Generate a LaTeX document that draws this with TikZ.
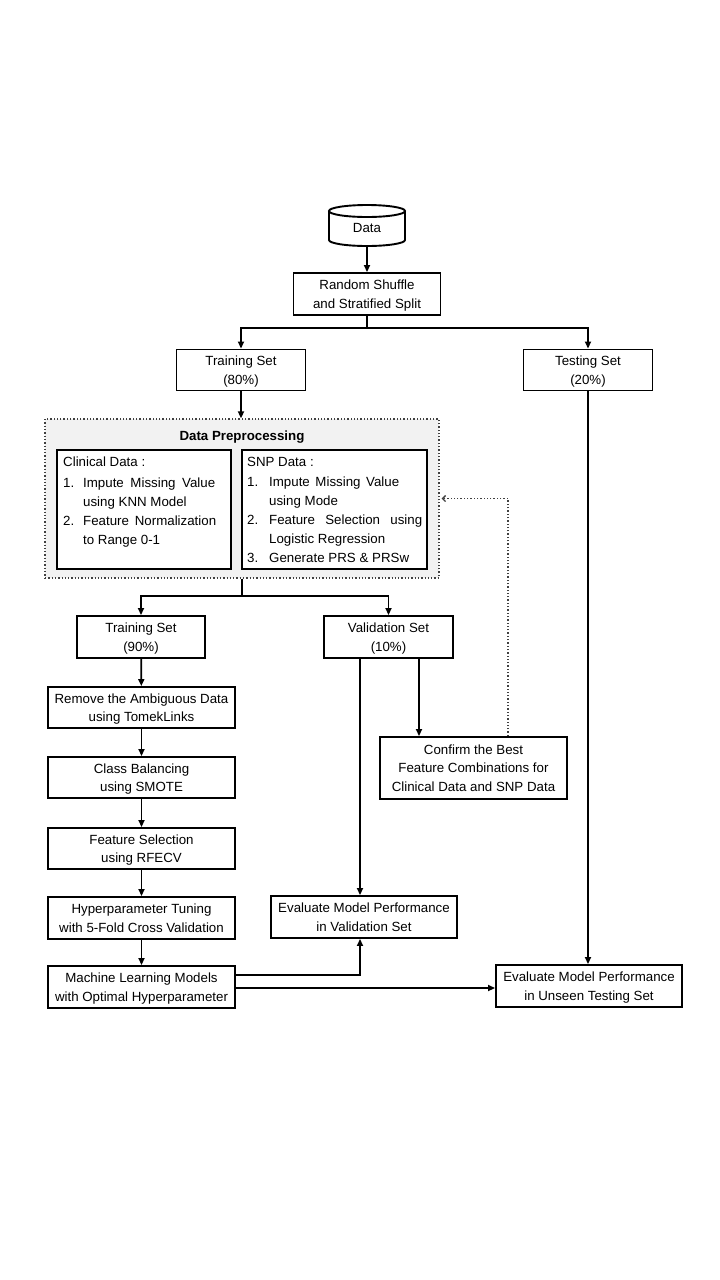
\documentclass[tikz,border=0pt]{standalone}
\usepackage{fontspec}
\setmainfont{Liberation Sans}
\usetikzlibrary{arrows.meta,calc}
\begin{document}
\begin{tikzpicture}[x=1pt,y=-1pt,
  txt/.style={font=\fontsize{13.3}{18.5}\selectfont},
  box/.style={txt,draw,line width=1.9pt,align=center,inner sep=0pt,fill=white,text depth=0pt},
  arr/.style={line width=1.7pt,-{Triangle[length=7pt,width=6pt]}},
  ln/.style={line width=1.9pt},
  dotarr/.style={line width=1.3pt,dotted,gray!50!black,-{Straight Barb[length=3pt,width=6pt]}}]
\useasboundingbox (0,0) rectangle (720,1280);

% data cylinder
\node[txt,minimum width=76pt,minimum height=41pt,inner sep=0pt] (data) at (367,225.5) {};
\node[txt] (datalbl) at (367,228) {Data};
\draw[ln] (367,211) ellipse [x radius=38pt,y radius=6pt];
\draw[ln] (329,211) -- (329,240) arc[start angle=180,end angle=360,x radius=38pt,y radius=6pt] -- (405,211);

\node[box,minimum width=147pt,minimum height=42pt] (rs) at (367,294) {Random Shuffle\\and Stratified Split};
\node[box,minimum width=129pt,minimum height=41pt] (tr80) at (241,370) {Training Set\\(80\%)};
\node[box,minimum width=129pt,minimum height=41pt] (te20) at (588,370) {Testing Set\\(20\%)};

% preprocessing
\node[draw=gray!50!black,dotted,line width=1.3pt,fill=black!5,minimum width=394pt,minimum height=159pt,inner sep=0pt] (pre) at (242,498.5) {};
\node[txt,font=\fontsize{13.3}{18.5}\selectfont\bfseries] (pretitle) at (242,437) {Data Preprocessing};
\node[draw,line width=2pt,fill=white,minimum width=174pt,minimum height=119pt,inner sep=0pt] (clin) at (144,509.5) {};
\node[draw,line width=2pt,fill=white,minimum width=185pt,minimum height=119pt,inner sep=0pt] (snp) at (334.5,509.5) {};
\node[anchor=north west,inner sep=0pt,align=left,font=\fontsize{13.3}{19}\selectfont] (clintext) at (63,457) {%
Clinical Data :\\[1.5pt]
\makebox[20pt][l]{1.}\makebox[132pt][s]{Impute Missing Value}\\
\hspace*{20pt}using KNN Model\\
\makebox[20pt][l]{2.}\makebox[133pt][s]{Feature Normalization}\\
\hspace*{20pt}to Range 0-1};
\node[anchor=north west,inner sep=0pt,align=left,font=\fontsize{13.3}{19}\selectfont] (snptext) at (247,457) {%
SNP Data :\\[1.5pt]
\makebox[22pt][l]{1.}\makebox[130pt][s]{Impute Missing Value}\\
\hspace*{22pt}using Mode\\
\makebox[22pt][l]{2.}\makebox[153pt][s]{Feature Selection using}\\
\hspace*{22pt}Logistic Regression\\
\makebox[22pt][l]{3.}\makebox[140pt][s]{Generate PRS \& PRSw}};

\node[box,minimum width=128pt,minimum height=42pt] (tr90) at (141,637) {Training Set\\(90\%)};
\node[box,minimum width=129pt,minimum height=42pt] (val) at (388.5,637) {Validation Set\\(10\%)};

\node[box,minimum width=187pt,minimum height=41pt] (rm) at (141.5,707.5) {Remove the Ambiguous Data\\using TomekLinks};
\node[box,minimum width=187pt,minimum height=41pt] (cb) at (141.5,777.5) {Class Balancing\\using SMOTE};
\node[box,minimum width=187pt,minimum height=41pt] (fs) at (141.5,848.5) {Feature Selection\\using RFECV};
\node[box,minimum width=187pt,minimum height=42pt] (hp) at (141.5,918) {Hyperparameter Tuning\\with 5-Fold Cross Validation};
\node[box,minimum width=187pt,minimum height=42pt] (ml) at (141.5,987) {Machine Learning Models\\with Optimal Hyperparameter};

\node[box,minimum width=186pt,minimum height=42pt] (ev) at (364,917) {Evaluate Model Performance\\in Validation Set};
\node[box,minimum width=187pt,minimum height=62pt] (cf) at (473.5,768) {Confirm the Best\\Feature Combinations for\\Clinical Data and SNP Data};
\node[box,minimum width=186pt,minimum height=42pt] (eu) at (589,986) {Evaluate Model Performance\\in Unseen Testing Set};

% connectors
\draw[arr] (data.south) -- (rs.north);
\draw[arr] (rs.south) -- ++(0,12) -| (tr80.north);
\draw[arr] (rs.south) -- ++(0,12) -| (te20.north);
\draw[arr] (tr80.south) -- (pre.north -| tr80.south);
\draw[arr] (te20.south) -- (eu.north -| te20.south);
\draw[arr] (pre.south) -- ++(0,17) -| (tr90.north);
\draw[arr] (pre.south) -- ++(0,17) -| (val.north);
\draw[arr] (tr90) -- (rm);
\draw[arr] (rm) -- (cb);
\draw[arr] (cb) -- (fs);
\draw[arr] (fs) -- (hp);
\draw[arr] (hp) -- (ml);
\draw[arr] ([xshift=-4pt]ev.north |- val.south) -- ([xshift=-4pt]ev.north);
\draw[arr] ([xshift=30.5pt]val.south) -- ([xshift=30.5pt]val.south |- cf.north);
\draw[arr] ([yshift=12pt]ml.east) -| ([xshift=-4pt]ev.south);
\draw[arr] ([yshift=-1pt]ml.east) -- ([yshift=-1pt]ml.east -| eu.west);
\draw[dotarr] ([xshift=34.5pt]cf.north) |- ([xshift=2pt]pre.east);
\end{tikzpicture}
\end{document}
